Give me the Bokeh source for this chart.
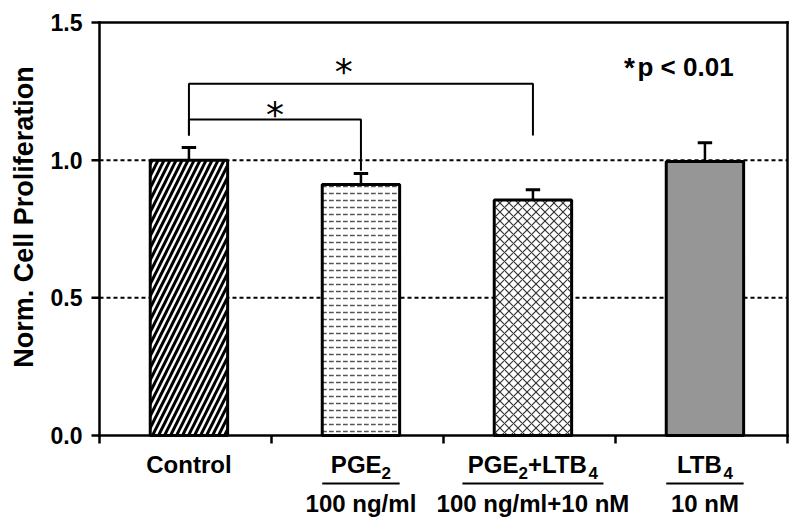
import numpy as np
from bokeh.plotting import figure
from bokeh.models import Range1d, ColumnDataSource
from bokeh.embed import file_html
from bokeh.resources import INLINE
from bokeh.core.properties import value

# ---------------- data ----------------
groups = ["Control", "PGE₂", "PGE₂+LTB₄", "LTB₄"]
doses = ["", "100 ng/ml", "100 ng/ml+10 nM", "10 nM"]
means = [1.00, 0.912, 0.855, 0.995]
errors = [0.046, 0.040, 0.038, 0.068]
y_ticks = [0.0, 0.5, 1.0, 1.5]
grid_values = [0.5, 1.0]
y_label = "Norm. Cell Proliferation"
p_note = "p < 0.01"
# significance brackets: (group a, group b, bracket level, leg bottom a, leg bottom b)
sig_brackets = [(0, 1, 1.148, 1.09, 0.962), (0, 2, 1.278, 1.09, 1.09)]

# ---------------- style / layout ----------------
FONT = "Liberation Sans"
W, H = 792, 526
X0PX, Y0PX = 99, 435          # pixel position of (0, 0)
XS, YS = 172.0, 275.33        # pixels per unit
bar_offset = 0.52
bar_width = 0.45
cap_half = 0.042
underline_half = [0.0, 0.225, 0.41, 0.225]
star_dx = [0.0, -0.10]
star_dpx = [5, 12]
NAME_SIZE, SUB_SIZE = 24, 17
bar_styles = [
    dict(fill_color="white", hatch_pattern="/", hatch_scale=12, hatch_weight=3, hatch_color="black"),
    dict(fill_color="white", hatch_pattern='"', hatch_scale=7, hatch_weight=1.5, hatch_color="#555555"),
    dict(fill_color="white", hatch_pattern="x", hatch_scale=9, hatch_weight=1.2, hatch_color="#333333"),
    dict(fill_color="#969696"),
]
# Liberation Sans Bold advance widths (per 1000 em) for label layout
ADV = {"P": 667, "G": 778, "E": 667, "+": 584, "L": 611, "T": 611, "B": 722,
       "2": 556, "4": 556, "C": 722, "o": 611, "n": 611, "t": 333, "r": 389, "l": 278}
SUBS = {"₂": "2", "₄": "4"}

n = len(groups)
xpos = np.arange(n) + bar_offset
ymax = y_ticks[-1]
px = 1.0 / XS
py = 1.0 / YS


def ypx(v):
    return (Y0PX - v) / YS


p = figure(width=W, height=H, output_backend="svg", toolbar_location=None,
           x_range=Range1d(-X0PX / XS, (W - X0PX) / XS),
           y_range=Range1d(-(H - Y0PX) / YS, Y0PX / YS),
           min_border=0, x_axis_location=None, y_axis_location=None)
p.outline_line_color = None
p.background_fill_color = "white"
p.border_fill_color = "white"
p.grid.visible = False

# dashed reference lines
p.segment(x0=0, y0=grid_values, x1=n, y1=grid_values, line_color="black",
          line_width=2, line_dash="4 3")

# frame (left axis, top, right, bottom)
p.multi_line(xs=[[0, 0], [0, n], [n, n], [0, n]],
             ys=[[0, ymax], [ymax, ymax], [0, ymax], [0, 0]],
             line_color="black", line_width=2.5, line_cap="square")
# x category boundary ticks
p.segment(x0=np.arange(n + 1), y0=0, x1=np.arange(n + 1), y1=-8 * py,
          line_color="black", line_width=2.5)
# y ticks and labels
p.segment(x0=0, y0=y_ticks, x1=-8 * px, y1=y_ticks, line_color="black", line_width=2.5)
p.text(x=-17 * px, y=y_ticks, text=["%.1f" % t for t in y_ticks], text_font=value(FONT),
       text_font_style="bold", text_font_size=value("23px"), text_align="right",
       text_baseline="middle", text_color="black")
# y axis title
p.text(x=[-76 * px], y=[ypx(216.5)], text=[y_label], angle=np.pi / 2,
       text_font=value(FONT), text_font_style="bold", text_font_size=value("27px"),
       text_align="center", text_baseline="middle", text_color="black")

# bars
for i in range(n):
    p.vbar(x=[xpos[i]], top=[means[i]], width=bar_width, bottom=0,
           line_color="black", line_width=3, **bar_styles[i])

# error bars
tops = np.array(means) + np.array(errors)
p.segment(x0=xpos, y0=means, x1=xpos, y1=tops, line_color="black", line_width=2.5)
p.segment(x0=xpos - cap_half, y0=tops, x1=xpos + cap_half, y1=tops,
          line_color="black", line_width=3)

# significance brackets
bxs, bys, sx, sy = [], [], [], []
for k, (a, b, lvl, la, lb) in enumerate(sig_brackets):
    bxs.append([xpos[a], xpos[a], xpos[b], xpos[b]])
    bys.append([la, lvl, lvl, lb])
    sx.append((xpos[a] + xpos[b]) / 2 + star_dx[k])
    sy.append(lvl + star_dpx[k] * py)
p.multi_line(xs=bxs, ys=bys, line_color="black", line_width=2)
p.text(x=sx, y=sy, text=["*"] * len(sx), text_font=value("DejaVu Sans"),
       text_font_size=value("36px"), text_align="center", text_baseline="middle",
       text_color="black")

# p-value note
p.text(x=[3.05], y=[ypx(66.5)], text=["*"], text_font=value(FONT), text_font_style="bold",
       text_font_size=value("28px"), text_align="left", text_baseline="middle")
p.text(x=[3.128], y=[ypx(66.5)], text=[p_note], text_font=value(FONT), text_font_style="bold",
       text_font_size=value("26px"), text_align="left", text_baseline="middle")

# category names, with real subscripts laid out as separate smaller runs
main_x, main_t, sub_x, sub_t = [], [], [], []
for i, name in enumerate(groups):
    runs = []
    for ch in name:
        is_sub = ch in SUBS
        c = SUBS.get(ch, ch)
        if runs and runs[-1][1] == is_sub:
            runs[-1][0] += c
        else:
            runs.append([c, is_sub])
    widths = [sum(ADV.get(c, 600) for c in t) / 1000.0 * (SUB_SIZE if s else NAME_SIZE)
              for t, s in runs]
    cur = xpos[i] * XS - sum(widths) / 2.0
    for (t, s), w in zip(runs, widths):
        (sub_x if s else main_x).append(cur / XS)
        (sub_t if s else main_t).append(t)
        cur += w
p.text(x=main_x, y=ypx(463.5), text=main_t, text_font=value(FONT),
       text_font_style="bold", text_font_size=value("%dpx" % NAME_SIZE), text_align="left",
       text_baseline="middle", text_color="black")
p.text(x=sub_x, y=ypx(472), text=sub_t, text_font=value(FONT),
       text_font_style="bold", text_font_size=value("%dpx" % SUB_SIZE), text_align="left",
       text_baseline="middle", text_color="black")

# doses
src = ColumnDataSource(dict(x=xpos, dose=doses))
p.text(x="x", y=ypx(503), text="dose", source=src, text_font=value(FONT),
       text_font_style="bold", text_font_size=value("24px"), text_align="center",
       text_baseline="middle", text_color="black")
ul = [i for i in range(n) if underline_half[i] > 0]
p.segment(x0=[xpos[i] - underline_half[i] for i in ul], y0=ypx(483),
          x1=[xpos[i] + underline_half[i] for i in ul], y1=ypx(483),
          line_color="black", line_width=2)

open("out.html", "w").write(file_html(p, INLINE))
